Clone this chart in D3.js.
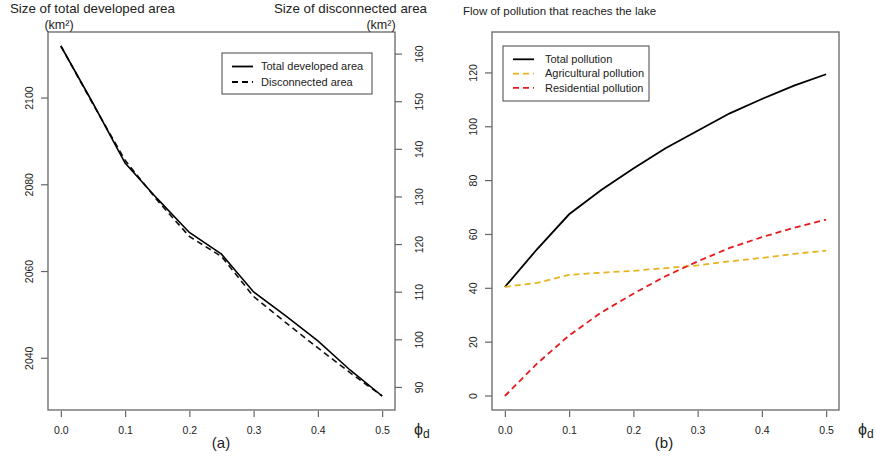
<!DOCTYPE html>
<html>
<head>
<meta charset="utf-8">
<script src="https://cdn.jsdelivr.net/npm/d3@7"></script>
<style>
  body { margin: 0; background: #fff; }
  text { font-family: "Liberation Sans", Arial, sans-serif; fill: #222; }
</style>
</head>
<body>
<div id="chart-container"><svg width="876" height="459"></svg></div>
<script>
// phi_d steps, shared by both panels
const phi = [0, 0.05, 0.1, 0.15, 0.2, 0.25, 0.3, 0.35, 0.4, 0.45, 0.5];
const xTicks = [0, 0.1, 0.2, 0.3, 0.4, 0.5];

// panel (a)
const totalArea = [2112, 2098.8, 2085, 2076.8, 2069, 2064, 2055.3, 2049.8, 2044, 2037.3, 2031.3];
const disconnectedArea = [161.7, 149.5, 137.7, 129.3, 121.7, 117.5, 109.1, 103.6, 98.3, 93.1, 88.2];
const areaTicksLeft = [2040, 2060, 2080, 2100];
const areaTicksRight = [90, 100, 110, 120, 130, 140, 150, 160];

// panel (b)
const totalPollution = [40.5, 54.5, 67.5, 76.5, 84.5, 92, 98.5, 105, 110.3, 115.3, 119.5];
const agriPollution = [40.5, 42, 45, 45.8, 46.5, 47.5, 48.5, 50, 51.3, 52.8, 54];
const resPollution = [0, 12, 22.5, 31, 38, 44.5, 50, 55, 59, 62.5, 65.5];
const pollutionLim = [0, 130];
const pollutionTicks = [0, 20, 40, 60, 80, 100, 120];

(function() {
    const svg = d3.select("#chart-container svg");
    const boxColor = "#666";

    // R style axis range: 4% on each side
    const pad = ext => {
        const d = (ext[1] - ext[0]) * 0.04;
        return [ext[0] - d, ext[1] + d];
    };

    const xDomain = pad(d3.extent(phi));

    function panel(left, right, top, bottom) {
        const x = d3.scaleLinear().domain(xDomain).range([left, right]);
        svg.append("rect")
            .attr("x", left).attr("y", top)
            .attr("width", right - left).attr("height", bottom - top)
            .attr("fill", "none").attr("stroke", boxColor).attr("stroke-width", 1.3);

        const ax = svg.append("g")
            .attr("transform", `translate(0,${bottom})`)
            .call(d3.axisBottom(x).tickValues(xTicks).tickFormat(d3.format(".1f")).tickSize(7).tickPadding(10));
        ax.select(".domain").remove();
        ax.selectAll("line").attr("stroke", boxColor).attr("stroke-width", 1.2)
            .attr("y1", 1);
        ax.selectAll("text").style("font-size", "10.5px").attr("fill", "#333");

        svg.append("text")
            .attr("x", right + 19).attr("y", bottom + 25)
            .style("font-size", "16px")
            .text("ϕ")
            .append("tspan")
            .attr("dy", 3)
            .style("font-size", "12px")
            .text("d");
        return x;
    }

    function yAxis(scale, ticks, xPos, side) {
        const axis = side === "left" ? d3.axisLeft(scale) : d3.axisRight(scale);
        const g = svg.append("g")
            .attr("transform", `translate(${xPos},0)`)
            .call(axis.tickValues(ticks).tickFormat(d3.format("d")).tickSize(7).tickPadding(10));
        g.select(".domain").remove();
        g.selectAll("line").attr("stroke", boxColor).attr("stroke-width", 1.2);
        g.selectAll("text")
            .style("font-size", "10.5px")
            .attr("fill", "#333")
            .attr("text-anchor", "middle")
            .attr("dy", "0.35em")
            .attr("x", null)
            .attr("transform", d => `translate(${side === "left" ? -19 : 24},${scale(d)}) rotate(-90)`)
            .attr("y", 0);
        g.selectAll(".tick").attr("transform", null);
        g.selectAll(".tick line")
            .attr("y1", d => scale(d)).attr("y2", d => scale(d));
    }

    function legend(x0, y0, w, h, items) {
        const lg = svg.append("g");
        lg.append("rect")
            .attr("x", x0).attr("y", y0).attr("width", w).attr("height", h)
            .attr("fill", "#fff").attr("stroke", "#444").attr("stroke-width", 1);
        items.forEach((it, i) => {
            const yy = y0 + it.dy0 + i * it.step;
            lg.append("line")
                .attr("x1", x0 + 10).attr("x2", x0 + 31)
                .attr("y1", yy).attr("y2", yy)
                .attr("stroke", it.color).attr("stroke-width", 1.8)
                .attr("stroke-dasharray", it.dash ? "6,4" : null);
            lg.append("text")
                .attr("x", x0 + it.tx).attr("y", yy)
                .attr("dy", "0.35em")
                .style("font-size", "11px")
                .text(it.label);
        });
    }

    // ---------- panel (a) ----------
    const aL = 48, aR = 395, aT = 32, aB = 410;
    const xa = panel(aL, aR, aT, aB);
    const yLeft = d3.scaleLinear().domain(pad(d3.extent(totalArea))).range([aB, aT]);
    const yRight = d3.scaleLinear().domain(pad(d3.extent(disconnectedArea))).range([aB, aT]);

    yAxis(yLeft, areaTicksLeft, aL, "left");
    yAxis(yRight, areaTicksRight, aR, "right");

    svg.append("path")
        .attr("d", d3.line().x((d, i) => xa(phi[i])).y(d => yRight(d))(disconnectedArea))
        .attr("fill", "none").attr("stroke", "#111").attr("stroke-width", 1.6)
        .attr("stroke-dasharray", "6,4");
    svg.append("path")
        .attr("d", d3.line().x((d, i) => xa(phi[i])).y(d => yLeft(d))(totalArea))
        .attr("fill", "none").attr("stroke", "#000").attr("stroke-width", 1.6);

    legend(222, 53, 150, 41, [
        { label: "Total developed area", color: "#000", dash: false, dy0: 13.5, step: 15.5, tx: 39 },
        { label: "Disconnected area", color: "#000", dash: true, dy0: 13.5, step: 15.5, tx: 39 }
    ]);

    svg.append("text").attr("x", 10).attr("y", 12.5).style("font-size", "13.3px")
        .text("Size of total developed area");
    svg.append("text").attr("x", 59).attr("y", 28.5).attr("text-anchor", "middle").style("font-size", "12.5px")
        .text("(km²)");
    svg.append("text").attr("x", 427).attr("y", 12.5).attr("text-anchor", "end").style("font-size", "13.3px")
        .text("Size of disconnected area");
    svg.append("text").attr("x", 381).attr("y", 28.5).attr("text-anchor", "middle").style("font-size", "12.5px")
        .text("(km²)");
    svg.append("text").attr("x", 221).attr("y", 448).attr("text-anchor", "middle").style("font-size", "15px")
        .text("(a)");

    // ---------- panel (b) ----------
    const bL = 492, bR = 839, bT = 32, bB = 410;
    const xb = panel(bL, bR, bT, bB);
    const yb = d3.scaleLinear().domain(pad(pollutionLim)).range([bB, bT]);
    yAxis(yb, pollutionTicks, bL, "left");

    const series = [
        { values: totalPollution, color: "#000", dash: null },
        { values: agriPollution, color: "#E6B41E", dash: "6,4" },
        { values: resPollution, color: "#E41A1C", dash: "6,4" }
    ];
    series.forEach(s => {
        svg.append("path")
            .attr("d", d3.line().x((d, i) => xb(phi[i])).y(d => yb(d))(s.values))
            .attr("fill", "none").attr("stroke", s.color).attr("stroke-width", 1.8)
            .attr("stroke-dasharray", s.dash);
    });

    legend(503, 46, 146, 55, [
        { label: "Total pollution", color: "#000", dash: false, dy0: 13.3, step: 14.3, tx: 42 },
        { label: "Agricultural pollution", color: "#E6B41E", dash: true, dy0: 13.3, step: 14.3, tx: 42 },
        { label: "Residential pollution", color: "#E41A1C", dash: true, dy0: 13.3, step: 14.3, tx: 42 }
    ]);

    svg.append("text").attr("x", 463).attr("y", 15).style("font-size", "11.5px")
        .text("Flow of pollution that reaches the lake");
    svg.append("text").attr("x", 664).attr("y", 448).attr("text-anchor", "middle").style("font-size", "15px")
        .text("(b)");
})();
</script>
</body>
</html>
